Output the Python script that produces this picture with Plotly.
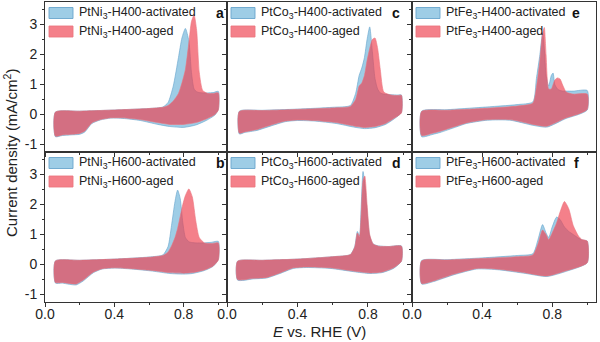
import plotly.graph_objects as go

# ---------------- data ----------------
# panel a : PtNi3-H400
a_fwd_x = [0.06, 0.2, 0.4, 0.6, 0.68, 0.71, 0.74, 0.77, 0.79, 0.81, 0.83, 0.845, 0.86, 0.875, 0.89, 0.91, 0.94, 0.97, 1.0]
a_act_fwd = [0.08, 0.11, 0.15, 0.2, 0.25, 0.4, 0.95, 1.9, 2.55, 2.87, 2.45, 1.4, 0.85, 0.76, 0.73, 0.72, 0.72, 0.73, 0.77]
a_aged_fwd = [0.08, 0.11, 0.15, 0.2, 0.24, 0.3, 0.45, 0.7, 1.05, 1.5, 2.4, 3.1, 3.32, 2.8, 1.4, 0.8, 0.7, 0.7, 0.72]
a_rev_x = [1.0, 0.98, 0.93, 0.87, 0.8, 0.72, 0.65, 0.55, 0.45, 0.38, 0.32, 0.27, 0.23, 0.2, 0.15, 0.1, 0.06]
a_act_rev = [0.17, -0.02, -0.2, -0.35, -0.43, -0.4, -0.33, -0.2, -0.13, -0.12, -0.18, -0.3, -0.58, -0.66, -0.68, -0.7, -0.74]
a_aged_rev = [0.15, 0.0, -0.15, -0.27, -0.33, -0.33, -0.27, -0.17, -0.11, -0.11, -0.17, -0.28, -0.55, -0.63, -0.66, -0.68, -0.72]

# panel b : PtNi3-H600
b_fwd_x = [0.06, 0.2, 0.4, 0.6, 0.68, 0.71, 0.73, 0.75, 0.765, 0.78, 0.795, 0.81, 0.83, 0.85, 0.87, 0.89, 0.92, 0.96, 1.0]
b_act_fwd = [0.12, 0.14, 0.18, 0.25, 0.32, 0.6, 1.3, 2.1, 2.48, 2.2, 1.4, 0.9, 0.76, 0.73, 0.72, 0.72, 0.72, 0.74, 0.77]
b_aged_fwd = [0.12, 0.14, 0.18, 0.24, 0.3, 0.42, 0.62, 0.9, 1.2, 1.6, 2.0, 2.3, 2.52, 2.25, 1.45, 0.9, 0.72, 0.7, 0.72]
b_rev_x = [1.0, 0.97, 0.92, 0.85, 0.8, 0.72, 0.62, 0.5, 0.4, 0.33, 0.28, 0.22, 0.18, 0.14, 0.1, 0.06]
b_act_rev = [0.17, -0.06, -0.2, -0.3, -0.32, -0.3, -0.22, -0.15, -0.12, -0.15, -0.27, -0.55, -0.68, -0.66, -0.62, -0.62]
b_aged_rev = [0.15, -0.05, -0.18, -0.27, -0.29, -0.27, -0.2, -0.14, -0.11, -0.14, -0.25, -0.52, -0.65, -0.63, -0.6, -0.6]

# panel c : PtCo3-H400
c_fwd_x = [0.07, 0.2, 0.4, 0.6, 0.7, 0.73, 0.75, 0.765, 0.78, 0.795, 0.81, 0.825, 0.84, 0.855, 0.87, 0.89, 0.93, 0.97, 0.99]
c_act_fwd = [0.11, 0.14, 0.18, 0.24, 0.3, 0.7, 1.3, 1.55, 1.9, 2.5, 2.92, 2.1, 1.2, 0.85, 0.72, 0.68, 0.66, 0.65, 0.65]
c_aged_fwd = [0.1, 0.13, 0.17, 0.22, 0.27, 0.5, 0.95, 1.05, 1.3, 1.8, 2.2, 2.5, 2.55, 2.2, 1.5, 0.75, 0.65, 0.63, 0.64]
c_rev_x = [0.99, 0.95, 0.9, 0.84, 0.78, 0.72, 0.62, 0.5, 0.4, 0.33, 0.25, 0.17, 0.1, 0.07]
c_act_rev = [0.07, -0.14, -0.33, -0.44, -0.47, -0.42, -0.3, -0.22, -0.2, -0.24, -0.38, -0.53, -0.6, -0.65]
c_aged_rev = [0.05, -0.12, -0.3, -0.4, -0.43, -0.38, -0.27, -0.2, -0.18, -0.22, -0.35, -0.5, -0.58, -0.62]

# panel d : PtCo3-H600
d_fwd_x = [0.06, 0.2, 0.4, 0.6, 0.7, 0.725, 0.74, 0.752, 0.762, 0.772, 0.782, 0.795, 0.81, 0.83, 0.86, 0.92, 0.99]
d_act_fwd = [0.11, 0.14, 0.18, 0.26, 0.33, 0.6, 1.1, 0.95, 2.0, 3.1, 2.7, 1.8, 0.95, 0.68, 0.62, 0.6, 0.62]
d_aged_fwd = [0.11, 0.14, 0.18, 0.26, 0.33, 0.58, 1.05, 0.92, 1.7, 2.8, 2.95, 2.0, 1.0, 0.68, 0.61, 0.6, 0.61]
d_rev_x = [0.99, 0.945, 0.88, 0.81, 0.72, 0.585, 0.45, 0.377, 0.3, 0.225, 0.15, 0.06]
d_act_rev = [0.11, -0.13, -0.27, -0.3, -0.24, -0.13, -0.1, -0.13, -0.3, -0.45, -0.48, -0.52]
d_aged_rev = [0.11, -0.11, -0.25, -0.28, -0.22, -0.11, -0.08, -0.11, -0.28, -0.43, -0.46, -0.5]

# panel e : PtFe3-H400
e_fwd_x = [0.055, 0.2, 0.4, 0.6, 0.69, 0.71, 0.73, 0.745, 0.755, 0.765, 0.78, 0.795, 0.805, 0.815, 0.83, 0.845, 0.86, 0.88, 0.92, 1.0]
e_act_fwd = [0.11, 0.16, 0.24, 0.33, 0.42, 1.2, 2.0, 2.72, 2.2, 1.3, 0.95, 1.3, 1.38, 1.0, 0.85, 0.8, 0.78, 0.78, 0.78, 0.8]
e_aged_fwd = [0.1, 0.14, 0.2, 0.28, 0.38, 0.9, 1.8, 2.7, 2.9, 2.0, 0.85, 0.85, 1.0, 1.15, 1.22, 1.18, 0.98, 0.75, 0.68, 0.68]
e_rev_x = [1.0, 0.95, 0.88, 0.77, 0.69, 0.56, 0.43, 0.31, 0.25, 0.16, 0.12, 0.055]
e_act_rev = [0.15, 0.0, -0.13, -0.42, -0.36, -0.19, -0.19, -0.3, -0.42, -0.6, -0.66, -0.74]
e_aged_rev = [0.17, 0.02, -0.11, -0.39, -0.33, -0.17, -0.17, -0.28, -0.39, -0.56, -0.62, -0.7]

# panel f : PtFe3-H600
f_fwd_x = [0.055, 0.2, 0.4, 0.6, 0.69, 0.72, 0.745, 0.765, 0.78, 0.8, 0.825, 0.845, 0.87, 0.895, 0.92, 0.95, 0.97, 1.0]
f_act_fwd = [0.13, 0.16, 0.22, 0.3, 0.36, 0.85, 1.33, 1.05, 0.9, 1.25, 1.58, 1.5, 1.25, 1.1, 1.0, 0.88, 0.82, 0.78]
f_aged_fwd = [0.12, 0.15, 0.2, 0.26, 0.32, 0.7, 1.15, 1.0, 0.83, 1.05, 1.38, 1.75, 2.1, 1.85, 1.3, 0.95, 0.83, 0.78]
f_rev_x = [1.0, 0.884, 0.77, 0.65, 0.5, 0.37, 0.24, 0.122, 0.055]
f_act_rev = [0.06, -0.22, -0.4, -0.3, -0.18, -0.15, -0.34, -0.57, -0.65]
f_aged_rev = [0.06, -0.2, -0.38, -0.28, -0.16, -0.13, -0.32, -0.55, -0.63]

samples = ["PtNi<sub>3</sub>-H400", "PtCo<sub>3</sub>-H400", "PtFe<sub>3</sub>-H400",
           "PtNi<sub>3</sub>-H600", "PtCo<sub>3</sub>-H600", "PtFe<sub>3</sub>-H600"]
letters = ["a", "c", "e", "b", "d", "f"]
states = ["activated", "aged"]
x_ticks = [0.0, 0.4, 0.8]
y_ticks = [-1, 0, 1, 2, 3]

panels = [
    (a_fwd_x, a_act_fwd, a_aged_fwd, a_rev_x, a_act_rev, a_aged_rev),
    (c_fwd_x, c_act_fwd, c_aged_fwd, c_rev_x, c_act_rev, c_aged_rev),
    (e_fwd_x, e_act_fwd, e_aged_fwd, e_rev_x, e_act_rev, e_aged_rev),
    (b_fwd_x, b_act_fwd, b_aged_fwd, b_rev_x, b_act_rev, b_aged_rev),
    (d_fwd_x, d_act_fwd, d_aged_fwd, d_rev_x, d_act_rev, d_aged_rev),
    (f_fwd_x, f_act_fwd, f_aged_fwd, f_rev_x, f_act_rev, f_aged_rev),
]

# ---------------- layout geometry (pixels) ----------------
W, H = 600, 342
L, R, T, B = 45, 596, 2, 302
col_px = [(45, 227), (227, 412), (412, 596)]
row_px = [(2, 152), (152, 302)]


def px2x(px):
    return (px - L) / (R - L)


def py2y(py):
    return (B - py) / (B - T)


FONT = "Liberation Sans, Arial, sans-serif"
BLUE_FILL = "rgba(145,198,227,0.88)"
BLUE_LINE = "rgba(105,165,205,0.9)"
RED_FILL = "rgba(238,62,78,0.66)"
RED_LINE = "rgba(235,115,125,0.85)"

fig = go.Figure()
layout = dict(
    width=W, height=H,
    margin=dict(l=L, r=W - R, t=T, b=H - B, pad=0),
    paper_bgcolor="white", plot_bgcolor="white",
    showlegend=False,
    font=dict(family=FONT, size=14, color="#222"),
)
annotations = []
shapes = []

for i, (fx, fa, fg, rx, ra, rg) in enumerate(panels):
    n = i + 1
    row, col = divmod(i, 3)
    xa = "x" if n == 1 else f"x{n}"
    ya = "y" if n == 1 else f"y{n}"
    c0, c1 = col_px[col]
    r0, r1 = row_px[row]
    for ys_f, ys_r, fill, line in ((fa, ra, BLUE_FILL, BLUE_LINE), (fg, rg, RED_FILL, RED_LINE)):
        fig.add_trace(go.Scatter(
            x=list(fx) + list(rx) + [fx[0]],
            y=list(ys_f) + list(ys_r) + [ys_f[0]],
            mode="lines", fill="toself", fillcolor=fill,
            line=dict(color=line, width=0.7, shape="spline", smoothing=0.6),
            xaxis=xa, yaxis=ya, hoverinfo="skip",
        ))
    axis_common = dict(showline=True, linecolor="#333", linewidth=1, mirror=True,
                       showgrid=False, zeroline=False, ticks="outside", ticklen=4,
                       tickcolor="#333", tickfont=dict(family=FONT, size=14, color="#222"))
    layout[f"xaxis{n if n > 1 else ''}"] = dict(
        axis_common, domain=[px2x(c0), px2x(c1)], anchor=ya, range=[0, 1.05],
        tickvals=x_ticks, ticktext=[f"{v:.1f}" for v in x_ticks],
        showticklabels=(row == 1), ticklabelstandoff=-5,
        minor=dict(tickvals=[0.2, 0.6, 1.0], ticks="outside", ticklen=2, tickcolor="#333"),
    )
    layout[f"yaxis{n if n > 1 else ''}"] = dict(
        axis_common, domain=[py2y(r1), py2y(r0)], anchor=xa, range=[-1.25, 3.75],
        tickvals=y_ticks, ticktext=[str(v) for v in y_ticks],
        showticklabels=(col == 0),
        minor=dict(tickvals=[-0.5, 0.5, 1.5, 2.5, 3.5], ticks="outside", ticklen=2, tickcolor="#333"),
    )
    # legend swatches + labels
    for k, (state, fill, line) in enumerate(zip(states, (BLUE_FILL, RED_FILL), (BLUE_LINE, RED_LINE))):
        cy = r0 + 11 + 18.5 * k
        shapes.append(dict(type="rect", xref="paper", yref="paper",
                           x0=px2x(c0 + 4), x1=px2x(c0 + 28), y0=py2y(cy + 5.5), y1=py2y(cy - 5.5),
                           fillcolor=fill, line=dict(color=line, width=1)))
        annotations.append(dict(xref="paper", yref="paper", x=px2x(c0 + 32), y=py2y(cy),
                                xanchor="left", yanchor="middle", showarrow=False,
                                text=f"{samples[i]}-{state}",
                                font=dict(family=FONT, size=12.5, color="#222")))
    letter_x = [220, 396, 576][col]
    annotations.append(dict(xref="paper", yref="paper", x=px2x(letter_x), y=py2y(r0 + 11),
                            xanchor="center", yanchor="middle", showarrow=False,
                            text=f"<b>{letters[i]}</b>", font=dict(family=FONT, size=14, color="#111")))

annotations.append(dict(xref="paper", yref="paper", x=px2x(10), y=py2y(153),
                        xanchor="center", yanchor="middle", showarrow=False, textangle=-90,
                        text="Current density (mA/cm<sup>2</sup>)",
                        font=dict(family=FONT, size=15, color="#222")))
annotations.append(dict(xref="paper", yref="paper", x=px2x(319), y=py2y(331),
                        xanchor="center", yanchor="middle", showarrow=False,
                        text="<i>E</i> vs. RHE (V)",
                        font=dict(family=FONT, size=15, color="#222")))

layout["annotations"] = annotations
layout["shapes"] = shapes
fig.update_layout(**layout)
fig.write_html("out.html")
